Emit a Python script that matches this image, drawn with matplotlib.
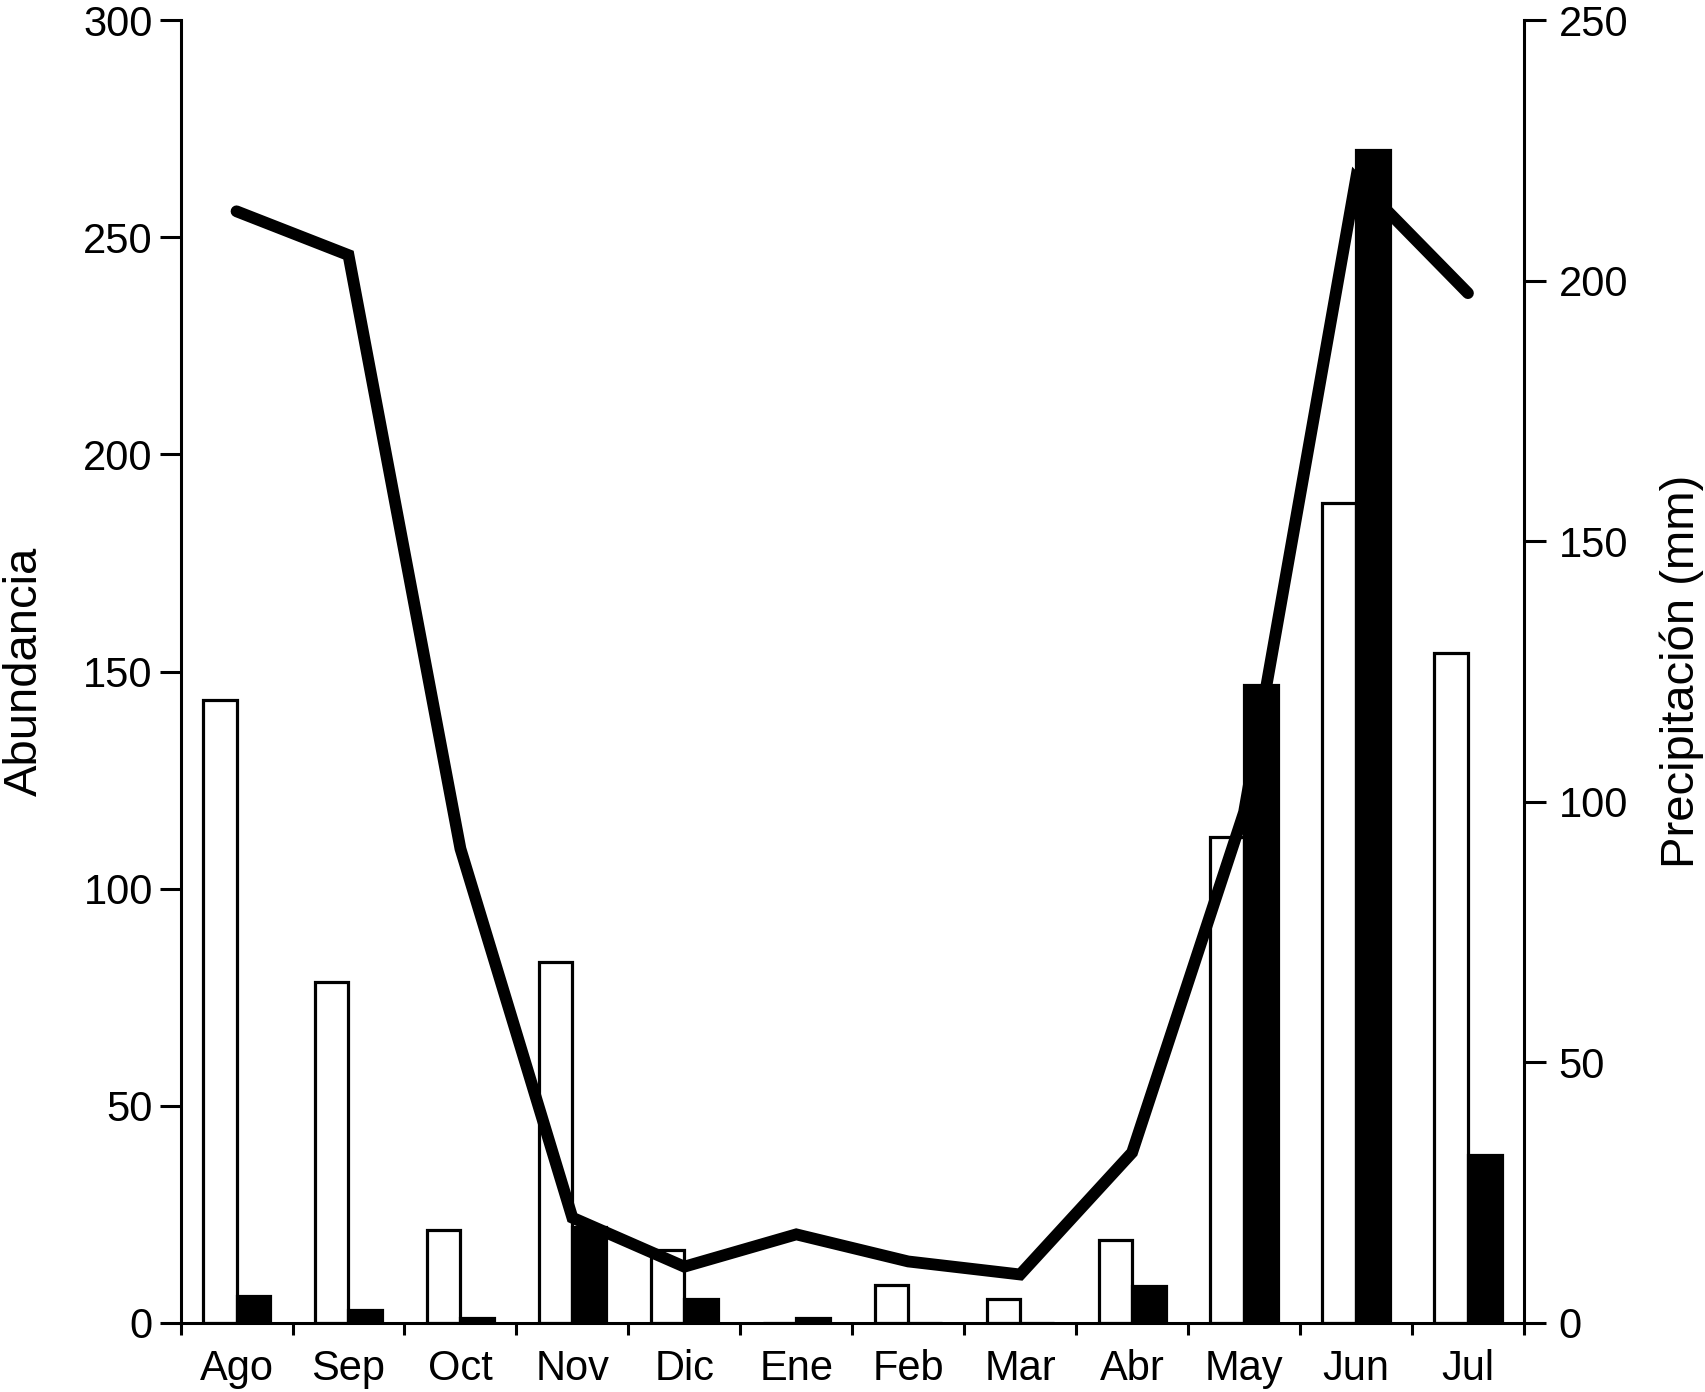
import numpy as np
from matplotlib import pyplot as plt

plt.rcParams['font.family'] = ['Liberation Sans', 'DejaVu Sans']

months = ['Ago', 'Sep', 'Oct', 'Nov', 'Dic', 'Ene', 'Feb', 'Mar', 'Abr', 'May', 'Jun', 'Jul']
abund_white = [143.5, 78.5, 21.4, 83, 16.8, 0, 8.7, 5.5, 19, 112, 188.7, 154.3]
abund_black = [6.1, 3, 1.1, 22, 5.5, 1.1, 0, 0, 8.4, 147, 270, 38.7]
precip = [213.3, 204.9, 91, 20.2, 10.8, 17, 11.8, 9.3, 32.7, 98, 219.5, 197.6]

x = np.arange(len(months))
w = 0.3

fig = plt.figure(figsize=(17.05, 13.92), dpi=100)
ax = fig.add_axes([0.1059, 0.0496, 0.8938 - 0.1059, 0.9856 - 0.0496])

# abundance bars (white / black pairs)
ax.bar(x - w/2, abund_white, width=w, color='white', edgecolor='black', linewidth=2.3)
ax.bar(x + w/2, abund_black, width=w, color='black', edgecolor='black', linewidth=2.3)

ax.set_xlim(-0.5, 11.5)
ax.set_ylim(0, 300)
ax.set_yticks(np.arange(0, 301, 50))
ax.set_xticks(np.arange(-0.5, 12, 1))
ax.set_xticklabels([])
ax.set_xticks(x, minor=True)
ax.set_xticklabels(months, minor=True)
ax.tick_params(axis='x', which='major', length=8.5, width=2.2, direction='out')
ax.tick_params(axis='x', which='minor', length=0, pad=19, labelsize=30)
ax.tick_params(axis='y', length=15, width=2.2, pad=5, labelsize=30)
for s in ['top', 'right']:
    ax.spines[s].set_visible(False)
for s in ['left', 'bottom']:
    ax.spines[s].set_linewidth(2.2)

ax.set_ylabel('Abundancia', fontsize=34)
ax.yaxis.set_label_coords(-0.1157, 0.5)
ax.yaxis.label.set_va('center')

# precipitation line on the right axis
ax2 = ax.twinx()
ax2.plot(x, precip, color='black', linewidth=8.5,
         solid_capstyle='round', solid_joinstyle='miter')
ax2.set_ylim(0, 250)
ax2.set_yticks(np.arange(0, 251, 50))
ax2.tick_params(axis='y', length=16, width=2.2, pad=9, labelsize=30)
for s in ['top', 'left', 'bottom']:
    ax2.spines[s].set_visible(False)
ax2.spines['right'].set_linewidth(2.2)
ax2.set_ylabel('Precipitación (mm)', fontsize=34)
ax2.yaxis.set_label_coords(1.1176, 0.5)
ax2.yaxis.label.set_va('center')
ax2.yaxis.label.set_rotation(90)

fig.savefig('out.png', dpi=100)
